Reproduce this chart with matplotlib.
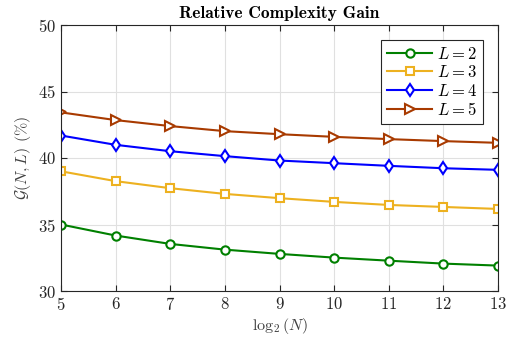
import matplotlib
matplotlib.use("Agg")
import matplotlib.pyplot as plt

# ---------------------------
# Data
# ---------------------------

log2_n = [5, 6, 7, 8, 9, 10, 11, 12, 13]

gain_l2 = [35.00, 34.17, 33.54, 33.11, 32.79, 32.51, 32.28, 32.06, 31.91]
gain_l3 = [39.00, 38.26, 37.73, 37.30, 36.98, 36.70, 36.47, 36.32, 36.17]
gain_l4 = [41.69, 40.99, 40.51, 40.14, 39.81, 39.61, 39.41, 39.23, 39.11]
gain_l5 = [43.43, 42.85, 42.40, 42.02, 41.79, 41.59, 41.42, 41.27, 41.14]

series_labels = [r"$L=2$", r"$L=3$", r"$L=4$", r"$L=5$"]
x_ticks = [5, 6, 7, 8, 9, 10, 11, 12, 13]
y_ticks = [30, 35, 40, 45, 50]

# ---------------------------
# Style
# ---------------------------

plt.rcParams["font.family"] = ["cmr10", "DejaVu Serif"]
plt.rcParams["mathtext.fontset"] = "cm"
plt.rcParams["axes.formatter.use_mathtext"] = True

styles = [
    dict(color="#008000", marker="o", ms=6.0),
    dict(color="#EDB120", marker="s", ms=5.3),
    dict(color="#0000FF", marker="d", ms=6.5),
    dict(color="#A83A00", marker=">", ms=6.5),
]

fig = plt.figure(figsize=(5.14, 3.43), dpi=100)
ax = fig.add_axes([61 / 514, 1 - 291 / 343, (498 - 61) / 514, (291 - 25) / 343])

for vals, label, st in zip([gain_l2, gain_l3, gain_l4, gain_l5], series_labels, styles):
    ax.plot(log2_n, vals, color=st["color"], marker=st["marker"], markersize=st["ms"],
            markerfacecolor="white", markeredgewidth=1.5, linewidth=1.5, label=label)

ax.set_xlim(5, 13)
ax.set_ylim(30, 50)
ax.set_xticks(x_ticks)
ax.set_yticks(y_ticks)
ax.tick_params(direction="in", top=True, right=True, labelsize=12, length=4,
               colors="#262626", labelcolor="#262626")
ax.grid(True, color="#e0e0e0", linewidth=0.8)
ax.set_axisbelow(True)
for sp in ax.spines.values():
    sp.set_color("#262626")
    sp.set_linewidth(0.8)

ax.set_title("Relative Complexity Gain", fontfamily="cmb10", fontsize=12.5, pad=5)
ax.set_xlabel(r"$\log_2(N)$", fontsize=11.5, color="#404040", labelpad=2)
ax.set_ylabel(r"$\mathcal{G}(N,L)$ (%)", fontsize=11.5, color="#404040", labelpad=4)

leg = ax.legend(loc="upper right", fontsize=12, fancybox=False, framealpha=1,
                edgecolor="#262626", handlelength=2.7, borderpad=0.35,
                labelspacing=0.15, handletextpad=0.3, borderaxespad=0.9)
leg.get_frame().set_linewidth(0.8)

fig.savefig("out.png", dpi=100)
